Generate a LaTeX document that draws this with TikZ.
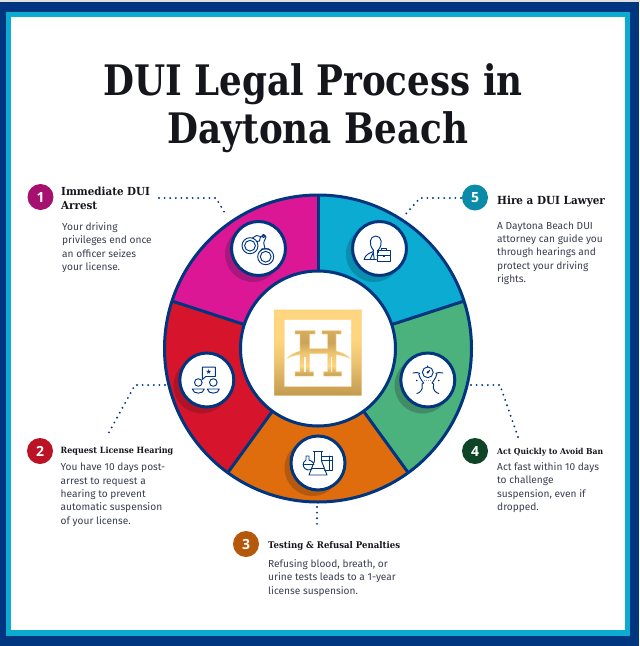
\documentclass[tikz,border=0pt]{standalone}
\usepackage{fontspec}
\usetikzlibrary{calc}
\setmainfont{Open Sans}
\newfontfamily\titlefont[FakeStretch=0.85]{DejaVu Serif}
\newfontfamily\headfont[FakeStretch=0.93]{DejaVu Serif}
\newfontfamily\bodyfont{Fira Sans}
\newfontfamily\numfont{Open Sans}
\newfontfamily\symfont{DejaVu Sans}
\definecolor{navy}{HTML}{003580}
\definecolor{framecyan}{HTML}{0BABD2}
\definecolor{segmag}{HTML}{DB1796}
\definecolor{segcyan}{HTML}{0BABD2}
\definecolor{seggreen}{HTML}{4BB17D}
\definecolor{segorange}{HTML}{E06D0D}
\definecolor{segred}{HTML}{D6152D}
\definecolor{shmag}{HTML}{A9177F}
\definecolor{shcyan}{HTML}{0B8EAE}
\definecolor{shgreen}{HTML}{3F8C66}
\definecolor{shorange}{HTML}{B4590E}
\definecolor{shred}{HTML}{AD1428}
\definecolor{bmag}{HTML}{A6116F}
\definecolor{bred}{HTML}{BC1226}
\definecolor{borange}{HTML}{B5580B}
\definecolor{bgreen}{HTML}{0E4527}
\definecolor{bcyan}{HTML}{0A8BA8}
\definecolor{bodygray}{HTML}{3B3F52}
\definecolor{headblack}{HTML}{15151C}
\definecolor{logoA}{HTML}{FFD57F}
\definecolor{logoB}{HTML}{C39B50}
\pgfdeclareverticalshading{logograd}{100bp}{color(0bp)=(logoB);color(25bp)=(logoB);color(45bp)=(logoA!70!logoB);color(58bp)=(logoA);color(100bp)=(logoA)}
\pgfdeclareverticalshading{hgrad}{100bp}{color(0bp)=(logoB);color(25bp)=(logoB);color(36bp)=(logoA);color(50bp)=(logoA!70!logoB);color(62bp)=(logoB!85!logoA);color(75bp)=(logoB!70!logoA);color(100bp)=(logoA)}
\tikzset{
  seglabel/.style={text=headblack,anchor=base west,inner sep=0pt},
  bodytext/.style={font=\bodyfont\fontsize{10.15}{13.35}\selectfont,text=bodygray,anchor=north west,inner sep=0pt,align=left},
  badge/.style={circle,minimum size=26pt,inner sep=0pt,text=white,font=\numfont\bfseries\fontsize{14}{14}\selectfont},
  iconcircle/.style={circle,draw=navy,line width=3pt,fill=white,minimum size=54pt,inner sep=0pt},
  leader/.style={draw=navy,line width=2.1pt,line cap=round,dash pattern=on 0pt off 5.6pt},
  iconline/.style={draw=navy,line width=0.95pt,line cap=round,line join=round},
  titletext/.style={font=\titlefont\bfseries\fontsize{42}{46}\selectfont,text=headblack,anchor=base,inner sep=0pt},
}
\begin{document}
\begin{tikzpicture}[x=1pt,y=1pt]
\useasboundingbox (0,0) rectangle (640,-646);
% frame
\fill[white] (0,0) rectangle (640,-646);
\fill[black!12] (0,0) rectangle (640,-2);
\fill[navy] (0,-2) rectangle (639,-645.5);
\fill[framecyan] (6,-12) rectangle (630,-635.5);
\fill[white] (11,-17) rectangle (625,-630);
% title
\node[titletext] (t1) at (313,-95) {DUI Legal Process in};
\node[titletext] (t2) at (318,-143) {Daytona Beach};
% ring
\coordinate (ringc) at (318,-348.5);
\begin{scope}[shift={(ringc)}]
\fill[segmag]    (0,0) -- (90:153.5) arc[start angle=90,end angle=162,radius=153.5] -- cycle;
\fill[segred]    (0,0) -- (162:153.5) arc[start angle=162,end angle=234,radius=153.5] -- cycle;
\fill[segorange] (0,0) -- (234:153.5) arc[start angle=234,end angle=306,radius=153.5] -- cycle;
\fill[seggreen]  (0,0) -- (306:153.5) arc[start angle=306,end angle=378,radius=153.5] -- cycle;
\fill[segcyan]   (0,0) -- (18:153.5) arc[start angle=18,end angle=90,radius=153.5] -- cycle;
\foreach \a in {90,162,234,306,18} \draw[navy,line width=3pt] (0,0) -- (\a:153.5);
\draw[navy,line width=3pt] (0,0) circle[radius=153.5];
\end{scope}
% shadows
\fill[shmag] (253,-254) circle[radius=28];
\fill[shcyan] (374,-254) circle[radius=28];
\fill[shred] (201.5,-385.5) circle[radius=28];
\fill[shgreen] (422.5,-385.5) circle[radius=28];
\fill[shorange] (312.5,-468) circle[radius=28];
% hub
\node[circle,draw=navy,line width=3pt,fill=white,minimum size=155pt,inner sep=0pt] (hub) at (ringc) {};
% logo
\shade[shading=logograd,even odd rule] (274.3,-310) rectangle (361.7,-395.5) (284.3,-319.5) rectangle (351.3,-386.5);
\draw[logoA!85!logoB,opacity=.3,line width=1.4pt] (274.3,-310) rectangle (361.7,-395.5);
\draw[logoA!85!logoB,opacity=.3,line width=1.4pt] (284.3,-319.5) rectangle (351.3,-386.5);
\def\logoH{(295,-330.7) -- (315,-330.7) -- (315,-334) -- (309.5,-334) -- (309.5,-348.5) -- (327.5,-348.5) -- (327.5,-334) -- (322,-334) -- (322,-330.7) -- (341,-330.7) -- (341,-334) -- (336,-334) -- (336,-351) .. controls (342,-352.5) and (347,-355) .. (350,-358.3) .. controls (345,-356.3) and (340,-355) .. (336,-354.5) -- (336,-371.7) -- (341.5,-371.7) -- (341.5,-376) -- (323.5,-376) -- (323.5,-371.7) -- (327.5,-371.7) -- (327.5,-353.5) -- (309.5,-353.5) -- (309.5,-371.7) -- (313.5,-371.7) -- (313.5,-376) -- (295,-376) -- (295,-371.7) -- (300,-371.7) -- (300,-354.5) .. controls (296,-355) and (291,-356.3) .. (287,-358.3) .. controls (290,-355) and (295,-352.5) .. (300,-351) -- (300,-334) -- (295,-334) -- cycle}
\shade[shading=hgrad] \logoH;
\draw[logoA,opacity=.3,line width=1.2pt] \logoH;
\fill[white,opacity=.9] (304.4,-356.5) rectangle (305.6,-371.7);
\fill[white,opacity=.9] (331.2,-356.5) rectangle (332.4,-371.7);
% icon circles
\node[iconcircle] (i1) at (258.5,-248.5) {};
\node[iconcircle] (i5) at (379.5,-248.5) {};
\node[iconcircle] (i2) at (206.8,-380) {};
\node[iconcircle] (i4) at (427.8,-380) {};
\node[iconcircle] (i3) at (318,-463) {};
% icon: handcuffs
\begin{scope}[shift={(i1.center)}]
\draw[iconline] (-8.5,2.8) circle[radius=8];
\draw[iconline] (-8.5,2.8) circle[radius=5.4];
\draw[iconline] (7.2,-8.2) circle[radius=8];
\draw[iconline] (7.2,-8.2) circle[radius=5.4];
\draw[iconline] (-6,10.5) -- (-2,13) -- (2,12) -- (1,7.5) -- (-2,7);
\draw[iconline] (2,-2.5) -- (3.5,-.3) -- (10,-.3) -- (12,-2);
\draw[iconline] (2.5,11.5) .. controls (6,15) and (9,12) .. (6.5,9) .. controls (4.5,6.5) and (5.5,3) .. (6.5,-.3);
\draw[iconline] (5,12.5) circle[radius=1.6];
\end{scope}
% icon: lawyer
\begin{scope}[shift={(i5.center)}]
\draw[iconline] (-6.2,-1.5) .. controls (-11,4) and (-10,12.5) .. (-3.7,12.5) .. controls (2.5,12.5) and (3.5,4) .. (-1.2,-1.5) -- (-1.2,-4);
\draw[iconline] (-6.2,-1.5) -- (-6.2,-3) .. controls (-10,-4.5) and (-14,-6) .. (-15.5,-11) -- (-3.2,-11);
\draw[iconline] (-9.5,-11) -- (-6.2,-4) -- (-5.2,-11);
\draw[iconline] (-2.5,-13) rectangle (10.5,-2.2);
\draw[iconline] (-2.5,-7) -- (10.5,-7);
\draw[iconline] (1.5,-2.2) -- (1.5,.2) -- (6.5,.2) -- (6.5,-2.2);
\fill[navy] (3,-8) rectangle (5,-6);
\end{scope}
% icon: hearing
\begin{scope}[shift={(i2.center)}]
\draw[iconline] (-4.5,0.5) -- (-4.5,12.8) -- (8.5,12.8) -- (8.5,3.5) -- (-1,3.5) -- (-4.5,0.5);
\node[text=navy,font=\symfont\fontsize{7}{7}\selectfont,inner sep=0pt] (star) at (2,8.2) {★};
\draw[iconline] (-8.5,-2.5) circle[radius=3.8];
\draw[iconline] (6.5,-2.5) circle[radius=3.8];
\draw[iconline] (-14.5,-9) .. controls (-14,-14.5) and (-3,-14.5) .. (-2.5,-9) -- cycle;
\draw[iconline] (.5,-9) .. controls (1,-14.5) and (12,-14.5) .. (12.5,-9) -- cycle;
\end{scope}
% icon: faces
\begin{scope}[shift={(i4.center)}]
\draw[iconline] (0,7.7) circle[radius=5.4];
\draw[iconline] (0,13.1) -- (0,14.2);
\fill[navy] (0,7.7) circle[radius=1.3];
\draw[iconline] (0,7.7) -- (2,9.7);
\draw[iconline] (-15,7) .. controls (-12,8) and (-9,7.5) .. (-8,6.5);
\draw[iconline] (-9,6) .. controls (-8.5,3) and (-7.5,2) .. (-6,-.5) -- (-4.2,-3) -- (-5.8,-4) .. controls (-5,-7) and (-5.5,-10) .. (-7,-11) .. controls (-8,-12.5) and (-9.5,-13) .. (-11,-13.5);
\draw[iconline] (15,7) .. controls (12,8) and (9,7.5) .. (8,6.5);
\draw[iconline] (9,6) .. controls (8.5,3) and (7.5,2) .. (6,-.5) -- (4.2,-3) -- (5.8,-4) .. controls (5,-7) and (5.5,-10) .. (7,-11) .. controls (8,-12.5) and (9.5,-13) .. (11,-13.5);
\fill[navy] (-11,-.5) circle[radius=.9];
\fill[navy] (11,-.5) circle[radius=.9];
\draw[navy!45,line width=0.9pt,dash pattern=on 1pt off 1.2pt] (-4,0) -- (4,0);
\end{scope}
% icon: lab
\begin{scope}[shift={(i3.center)}]
\draw[iconline] (3.5,6.8) -- (14.7,6.8) -- (14.7,-7) -- (6.5,-7);
\draw[iconline] (3.5,3) -- (14.7,3);
\draw[iconline] (11.5,6.8) -- (11.5,-7);
\draw[iconline] (-4.7,11.3) -- (4.7,11.3);
\draw[iconline] (-3.5,11.3) -- (-3.5,2) -- (-9,-12) -- (9,-12) -- (3.5,2) -- (3.5,11.3);
\draw[iconline] (-6.3,-5) -- (6.3,-5);
\draw[iconline] (-6,-5.8) .. controls (-8,-7.5) and (-13,-7.5) .. (-14.5,-3.5) .. controls (-15.5,0) and (-13.5,2.5) .. (-12,3) -- (-12,7) -- (-9,7) -- (-9,3) .. controls (-7.5,2.5) and (-5.5,1.5) .. (-4.5,0);
\draw[iconline] (-15,-1) -- (-4.2,-1);
\end{scope}
% badges
\node[badge,fill=bmag] (b1) at (40.5,-197) {1};
\node[badge,fill=bred] (b2) at (40,-451) {2};
\node[badge,fill=borange] (b3) at (246,-544) {3};
\node[badge,fill=bgreen] (b4) at (475,-451) {4};
\node[badge,fill=bcyan] (b5) at (475,-197.5) {5};
% headings
\node[seglabel,font=\headfont\bfseries\fontsize{11.1}{14.2}\selectfont,anchor=north west,align=left] (h1) at (61,-186.5) {Immediate DUI\\Arrest};
\node[seglabel,font=\headfont\bfseries\fontsize{11.2}{14}\selectfont] (h5) at (497,-204) {Hire a DUI Lawyer};
\node[seglabel,font=\headfont\bfseries\fontsize{8.6}{14}\selectfont] (h2) at (60.5,-453.5) {Request License Hearing};
\node[seglabel,font=\headfont\bfseries\fontsize{9.2}{14}\selectfont] (h3) at (268,-548) {Testing \& Refusal Penalties};
\node[seglabel,font=\headfont\bfseries\fontsize{8.2}{14}\selectfont] (h4) at (497,-454.5) {Act Quickly to Avoid Ban};
% body
\node[bodytext] (d1) at (62,-222.3) {Your driving\\privileges end once\\an officer seizes\\your license.};
\node[bodytext] (d5) at (497,-221.5) {A Daytona Beach DUI\\attorney can guide you\\through hearings and\\protect your driving\\rights.};
\node[bodytext] (d2) at (60.5,-463) {You have 10 days post-\\arrest to request a\\hearing to prevent\\automatic suspension\\of your license.};
\node[bodytext] (d3) at (268,-559.5) {Refusing blood, breath, or\\urine tests leads to a 1-year\\license suspension.};
\node[bodytext] (d4) at (497,-462.5) {Act fast within 10 days\\to challenge\\suspension, even if\\dropped.};
% leaders
\coordinate (l1a) at (159,-198); \coordinate (l1b) at (216,-198); \coordinate (l1c) at (226.5,-216);
\coordinate (l5a) at (461,-198); \coordinate (l5b) at (420,-198); \coordinate (l5c) at (404,-216);
\coordinate (l2a) at (165,-385); \coordinate (l2b) at (135,-385); \coordinate (l2c) at (107,-436);
\coordinate (l4a) at (471,-385); \coordinate (l4b) at (500,-385); \coordinate (l4c) at (518,-437);
\coordinate (l3a) at (317,-507); \coordinate (l3b) at (317,-527);
\draw[leader] (l1a) -- (l1b) -- (l1c);
\draw[leader] (l5a) -- (l5b) -- (l5c);
\draw[leader] (l2a) -- (l2b) -- (l2c);
\draw[leader] (l4a) -- (l4b) -- (l4c);
\draw[leader] (l3a) -- (l3b);
\end{tikzpicture}
\end{document}
